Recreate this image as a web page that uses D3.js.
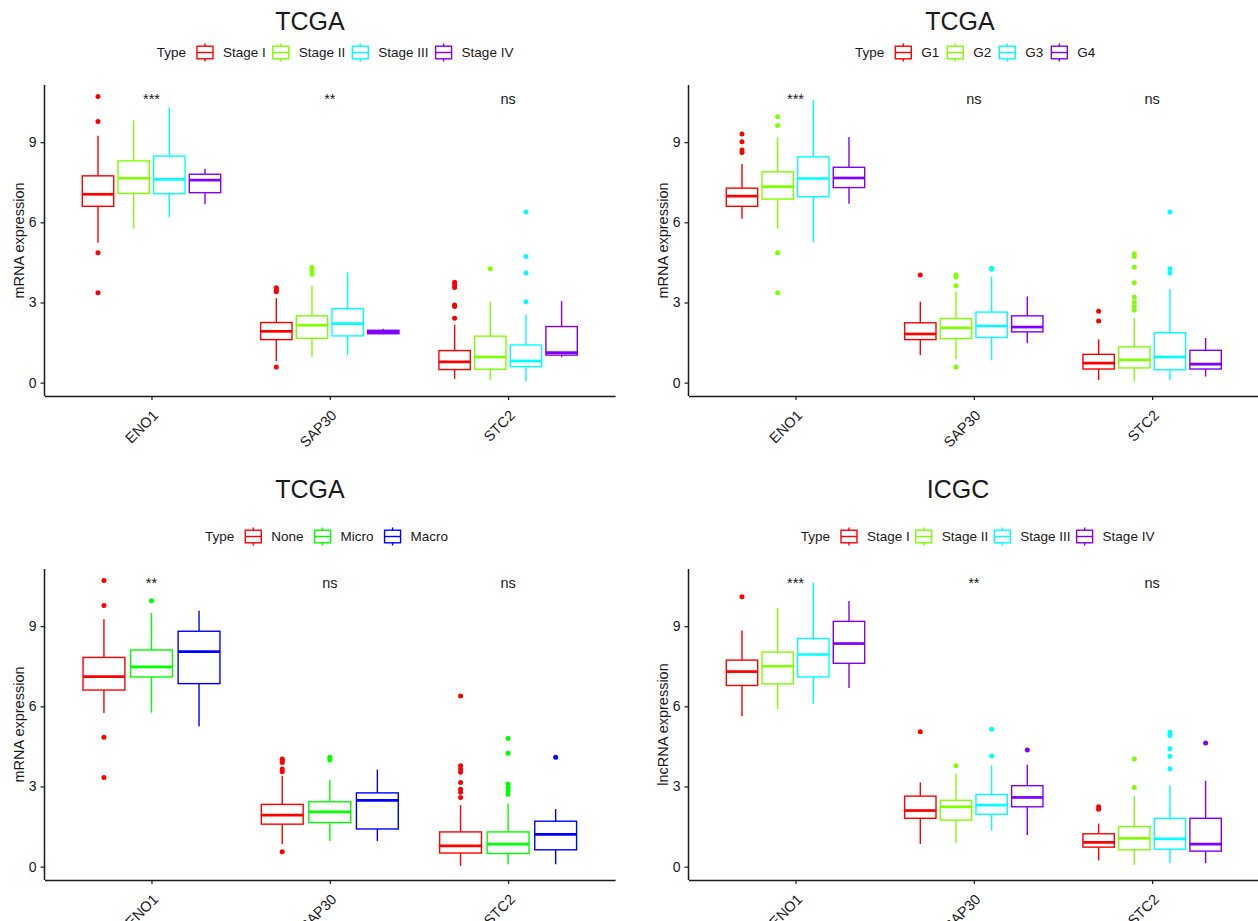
<!DOCTYPE html>
<html>
<head>
<meta charset="utf-8">
<script src="https://cdn.jsdelivr.net/npm/d3@7"></script>
<style>
body { margin: 0; background: #fff; }
text { font-family: "Liberation Sans", Arial, sans-serif; fill: #1a1a1a; }
</style>
</head>
<body>
<div id="chart-area"></div>
<script>

// categories and groups
var genes = ['ENO1', 'SAP30', 'STC2'];
var yTicks = [0, 3, 6, 9];
var stageGroups = ['Stage I', 'Stage II', 'Stage III', 'Stage IV'];
var gradeGroups = ['G1', 'G2', 'G3', 'G4'];
var metGroups = ['None', 'Micro', 'Macro'];
var colors4 = ['#FF0000', '#80FF00', '#00FFFF', '#8000FF'];
var colors3 = ['#FF0000', '#00FF00', '#0000FF'];

// box stats per gene, per group: [lower whisker, q1, median, q3, upper whisker]
var tcgaStageBoxes = [
    [[5.24, 6.60, 7.05, 7.74, 9.24], [5.77, 7.08, 7.65, 8.30, 9.82], [6.20, 7.07, 7.61, 8.48, 10.30], [6.68, 7.11, 7.58, 7.80, 8.01]],
    [[0.81, 1.61, 1.92, 2.25, 3.16], [0.97, 1.66, 2.15, 2.50, 3.63], [1.03, 1.75, 2.21, 2.77, 4.13], [1.81, 1.83, 1.90, 1.96, 2.02]],
    [[0.14, 0.49, 0.78, 1.20, 2.17], [0.11, 0.50, 0.96, 1.74, 3.03], [0.04, 0.60, 0.81, 1.41, 2.55], [0.95, 1.03, 1.12, 2.10, 3.05]]
];
var tcgaStageOutliers = [
    [[10.71, 9.77, 4.86, 3.36], [], [], []],
    [[3.55, 3.47, 3.40, 0.59], [4.31, 4.20, 4.06], [], []],
    [[3.76, 3.66, 3.56, 2.91, 2.85, 2.41], [4.26], [6.39, 4.72, 4.10, 3.03], []]
];
var tcgaStageSig = ['***', '**', 'ns'];

var tcgaGradeBoxes = [
    [[6.13, 6.60, 6.98, 7.28, 8.18], [5.77, 6.87, 7.34, 7.89, 9.19], [5.26, 6.96, 7.64, 8.45, 10.58], [6.70, 7.30, 7.66, 8.06, 9.19]],
    [[1.03, 1.61, 1.82, 2.24, 3.03], [0.88, 1.65, 2.05, 2.40, 3.41], [0.84, 1.69, 2.12, 2.64, 3.97], [1.47, 1.90, 2.08, 2.50, 3.22]],
    [[0.10, 0.51, 0.73, 1.06, 1.62], [0.04, 0.55, 0.85, 1.34, 2.43], [0.10, 0.48, 0.96, 1.87, 3.50], [0.23, 0.51, 0.69, 1.21, 1.67]]
];
var tcgaGradeOutliers = [
    [[9.31, 9.02, 8.71, 8.61], [9.95, 9.62, 4.86, 3.36], [], []],
    [[4.03], [4.03, 3.95, 3.63, 0.59], [4.28, 4.24], []],
    [[2.67, 2.31], [4.82, 4.72, 4.32, 3.74, 3.20, 3.01, 2.85, 2.71], [6.39, 4.26, 4.10], []]
];
var tcgaGradeSig = ['***', 'ns', 'ns'];

var tcgaMetBoxes = [
    [[5.75, 6.61, 7.11, 7.83, 9.26], [5.76, 7.10, 7.48, 8.11, 9.50], [5.25, 6.85, 8.05, 8.81, 9.58]],
    [[0.84, 1.59, 1.93, 2.33, 3.40], [0.96, 1.65, 2.05, 2.43, 3.24], [0.96, 1.41, 2.48, 2.76, 3.63]],
    [[0.03, 0.51, 0.78, 1.30, 2.30], [0.09, 0.49, 0.84, 1.30, 2.36], [0.09, 0.63, 1.21, 1.70, 2.16]]
];
var tcgaMetOutliers = [
    [[10.71, 9.77, 4.84, 3.34], [9.95], []],
    [[4.03, 3.97, 3.90, 3.65, 3.55, 0.56], [4.09, 3.99], []],
    [[6.39, 3.78, 3.65, 3.53, 3.15, 2.90, 2.78, 2.59], [4.80, 4.24, 3.09, 2.96, 2.84, 2.71], [4.09]]
];
var tcgaMetSig = ['**', 'ns', 'ns'];

var icgcStageBoxes = [
    [[5.63, 6.78, 7.30, 7.73, 8.84], [5.90, 6.84, 7.50, 8.03, 9.69], [6.10, 7.10, 7.94, 8.54, 10.63], [6.69, 7.61, 8.35, 9.18, 9.94]],
    [[0.85, 1.81, 2.10, 2.64, 3.15], [0.88, 1.74, 2.24, 2.48, 3.48], [1.35, 1.96, 2.30, 2.70, 3.79], [1.18, 2.24, 2.59, 3.03, 3.81]],
    [[0.23, 0.73, 0.91, 1.23, 1.61], [0.06, 0.63, 1.06, 1.50, 2.64], [0.13, 0.65, 1.04, 1.81, 3.04], [0.13, 0.58, 0.84, 1.81, 3.21]]
];
var icgcStageOutliers = [
    [[10.10], [], [], []],
    [[5.05], [3.78], [5.14, 4.14], [4.37]],
    [[2.24, 2.15], [4.03, 2.96], [5.03, 4.91, 4.41, 4.13, 3.66], [4.63]]
];
var icgcStageSig = ['***', '**', 'ns'];

var sigLevel = 10.43;

var svgWidth = 1258;
var svgHeight = 921;
var plotWidth = 570.6;

var svg = d3.select('#chart-area')
            .append('svg')
            .attr('width', svgWidth)
            .attr('height', svgHeight);

var panels = [
    {title: 'TCGA', ylab: 'mRNA expression', groups: stageGroups, colors: colors4,
     boxes: tcgaStageBoxes, outliers: tcgaStageOutliers, sig: tcgaStageSig,
     left: 44.5, top: 85, bottom: 396, titleX: 310, titleY: 30, legX: 156.7, legY: 52.5, legGap: 6},
    {title: 'TCGA', ylab: 'mRNA expression', groups: gradeGroups, colors: colors4,
     boxes: tcgaGradeBoxes, outliers: tcgaGradeOutliers, sig: tcgaGradeSig,
     left: 688.5, top: 85, bottom: 396, titleX: 960, titleY: 30, legX: 855, legY: 52.5, legGap: 7},
    {title: 'TCGA', ylab: 'mRNA expression', groups: metGroups, colors: colors3,
     boxes: tcgaMetBoxes, outliers: tcgaMetOutliers, sig: tcgaMetSig,
     left: 44.5, top: 569, bottom: 880, titleX: 310, titleY: 498, legX: 205, legY: 536.5, legGap: 10},
    {title: 'ICGC', ylab: 'lncRNA expression', groups: stageGroups, colors: colors4,
     boxes: icgcStageBoxes, outliers: icgcStageOutliers, sig: icgcStageSig,
     left: 688.5, top: 569, bottom: 880, titleX: 958, titleY: 498, legX: 800.7, legY: 536.5, legGap: 5}
];

panels.forEach(drawPanel);

function drawPanel(p) {
    var g = svg.append('g');

    var xScale = d3.scalePoint()
                   .domain(genes)
                   .range([p.left, p.left + plotWidth])
                   .padding(0.6);
    var step = xScale.step();

    var groupScale = d3.scaleBand()
                       .domain(p.groups)
                       .range([-0.4 * step, 0.4 * step])
                       .paddingInner(0.12)
                       .paddingOuter(0.06);

    var yScale = d3.scaleLinear()
                   .domain([-0.5, 11.14])
                   .range([p.bottom, p.top]);

    var color = d3.scaleOrdinal().domain(p.groups).range(p.colors);

    // flatten box stats
    var rows = [];
    genes.forEach(function(gene, gi) {
        p.groups.forEach(function(grp, k) {
            var s = p.boxes[gi][k];
            rows.push({gene: gene, group: grp, lo: s[0], q1: s[1], med: s[2], q3: s[3], hi: s[4],
                       out: p.outliers[gi][k]});
        });
    });

    var bw = groupScale.bandwidth();
    function cx(d) { return xScale(d.gene) + groupScale(d.group) + bw / 2; }

    var boxes = g.selectAll('g.box').data(rows).enter()
                 .append('g').attr('class', 'box');

    boxes.append('line')
         .attr('x1', cx).attr('x2', cx)
         .attr('y1', function(d) { return yScale(d.hi); })
         .attr('y2', function(d) { return yScale(d.q3); })
         .attr('stroke', function(d) { return color(d.group); })
         .attr('stroke-width', 1.4);

    boxes.append('line')
         .attr('x1', cx).attr('x2', cx)
         .attr('y1', function(d) { return yScale(d.q1); })
         .attr('y2', function(d) { return yScale(d.lo); })
         .attr('stroke', function(d) { return color(d.group); })
         .attr('stroke-width', 1.4);

    boxes.append('rect')
         .attr('x', function(d) { return cx(d) - bw / 2; })
         .attr('y', function(d) { return yScale(d.q3); })
         .attr('width', bw)
         .attr('height', function(d) { return yScale(d.q1) - yScale(d.q3); })
         .attr('fill', '#fff')
         .attr('stroke', function(d) { return color(d.group); })
         .attr('stroke-width', 1.4);

    boxes.append('line')
         .attr('x1', function(d) { return cx(d) - bw / 2; })
         .attr('x2', function(d) { return cx(d) + bw / 2; })
         .attr('y1', function(d) { return yScale(d.med); })
         .attr('y2', function(d) { return yScale(d.med); })
         .attr('stroke', function(d) { return color(d.group); })
         .attr('stroke-width', 2.7);

    boxes.selectAll('circle')
         .data(function(d) { return d.out.map(function(v) { return {v: v, row: d}; }); })
         .enter().append('circle')
         .attr('cx', function(d) { return cx(d.row); })
         .attr('cy', function(d) { return yScale(d.v); })
         .attr('r', 2.5)
         .attr('fill', function(d) { return color(d.row.group); });

    // axes
    var yAxis = d3.axisLeft(yScale).tickValues(yTicks).tickSize(4).tickSizeOuter(0).tickPadding(4);
    var ya = g.append('g')
              .attr('transform', 'translate(' + p.left + ',0)')
              .call(yAxis);
    ya.select('.domain').attr('stroke', '#1a1a1a').attr('stroke-width', 1.5)
      .attr('d', 'M0,' + p.bottom + 'V' + p.top);
    ya.selectAll('.tick line').attr('stroke', '#1a1a1a').attr('stroke-width', 1.2);
    ya.selectAll('.tick text').style('font-size', '14px').attr('fill', '#1a1a1a');

    var xAxis = d3.axisBottom(xScale).tickSize(4).tickSizeOuter(0);
    var xa = g.append('g')
              .attr('transform', 'translate(0,' + p.bottom + ')')
              .call(xAxis);
    xa.select('.domain').attr('stroke', '#1a1a1a').attr('stroke-width', 1.5);
    xa.selectAll('.tick line').attr('stroke', '#1a1a1a').attr('stroke-width', 1.2);
    xa.selectAll('.tick text')
      .style('font-size', '14.5px')
      .attr('fill', '#1a1a1a')
      .attr('y', 0)
      .attr('dy', '0.71em')
      .attr('text-anchor', 'end')
      .attr('transform', 'translate(0,13) rotate(-45)');

    // y label
    g.append('text')
     .attr('transform', 'translate(' + (p.left - 25.5) + ',' + ((p.top + p.bottom) / 2) + ') rotate(-90)')
     .attr('dy', '0.35em')
     .attr('text-anchor', 'middle')
     .style('font-size', '14.5px')
     .text(p.ylab);

    // significance labels
    g.selectAll('text.sig').data(genes).enter()
     .append('text').attr('class', 'sig')
     .attr('x', function(d) { return xScale(d); })
     .attr('y', yScale(sigLevel))
     .attr('text-anchor', 'middle')
     .style('font-size', '14.5px')
     .text(function(d, i) { return p.sig[i]; });

    // title
    g.append('text')
     .attr('x', p.titleX)
     .attr('y', p.titleY)
     .attr('text-anchor', 'middle')
     .style('font-size', '25px')
     .attr('fill', '#000')
     .text(p.title);

    // legend
    var lg = g.append('g').attr('transform', 'translate(' + p.legX + ',' + p.legY + ')');
    var pos = 0;
    var t = lg.append('text').attr('x', pos).attr('y', 4.6).style('font-size', '13.5px').text('Type');
    pos += t.node().getComputedTextLength() + 10;
    p.groups.forEach(function(grp) {
        var key = lg.append('g').attr('transform', 'translate(' + pos + ',0)');
        key.append('line').attr('x1', 9).attr('x2', 9).attr('y1', -9).attr('y2', 9)
           .attr('stroke', color(grp)).attr('stroke-width', 1.4);
        key.append('rect').attr('x', 1).attr('y', -6.3).attr('width', 16).attr('height', 12.6)
           .attr('fill', '#fff').attr('stroke', color(grp)).attr('stroke-width', 1.4);
        key.append('line').attr('x1', 1).attr('x2', 17).attr('y1', 0).attr('y2', 0)
           .attr('stroke', color(grp)).attr('stroke-width', 1.4);
        pos += 18 + 9;
        var lt = lg.append('text').attr('x', pos).attr('y', 4.6).style('font-size', '13.5px').text(grp);
        pos += lt.node().getComputedTextLength() + p.legGap;
    });
}
</script>
</body>
</html>
